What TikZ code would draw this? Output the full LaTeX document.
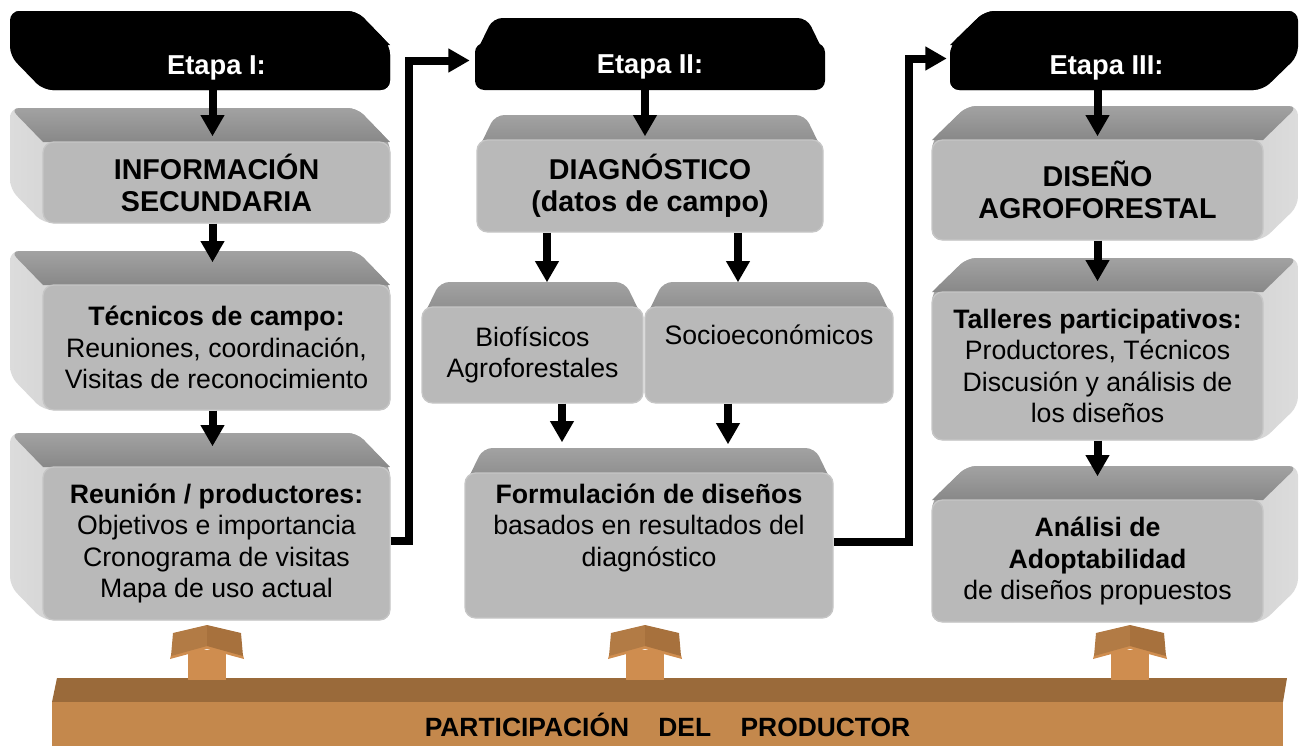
\documentclass[tikz,border=0pt]{standalone}
\usepackage{fontspec}
\setmainfont{Liberation Sans}
\usetikzlibrary{arrows.meta,calc}
\definecolor{frontgray}{HTML}{B9B9B9}
\definecolor{frontedge}{HTML}{C6C6C6}
\definecolor{topback}{HTML}{A2A2A2}
\definecolor{topfront}{HTML}{888888}
\definecolor{sidelight}{HTML}{DCDCDC}
\definecolor{sidedark}{HTML}{A4A4A4}
\definecolor{bartop}{HTML}{9A6A3A}
\definecolor{barfront}{HTML}{C4884C}
\definecolor{brheadL}{HTML}{B27B45}
\definecolor{brheadR}{HTML}{A7713D}
\definecolor{brlight}{HTML}{CF8D4F}
\newcommand\fbody{\fontsize{20}{23.5}\selectfont}
\newcommand\ftitle{\fontsize{21.5}{24}\selectfont\bfseries}
\newcommand\fhead{\fontsize{20.5}{24}\selectfont\bfseries}
\tikzset{
  front/.style={rectangle, rounded corners=8pt, fill=frontgray, draw=frontedge, line width=1pt,
    inner sep=0pt, align=center, font=\fbody},
  titlebox/.style={front, font=\ftitle},
  headbox/.style={rectangle, rounded corners=7pt, fill=black, inner sep=0pt, text=white, font=\fhead},
  barnode/.style={rectangle, fill=barfront, inner sep=0pt, font=\fontsize{19.8}{22}\selectfont\bfseries},
  arr/.style={line width=6pt, -{Triangle[width=17pt,length=16pt]}},
  blk/.style={fill=black},
  sideL/.style={left color=sidelight, right color=sidedark},
  sideR/.style={left color=sidedark, right color=sidelight},
  topf/.style={top color=topback, bottom color=topfront},
}
% extrusion toward upper left (column 1)
\newcommand\extL[6]{%
  \path[#5,rounded corners=7pt] ({#1-33},{#2-34}) -- ({#3-33},{#2-34}) -- (#3,#2) -- (#3,#4) -- (#1,#4) -- ({#1-33},{#4-34}) -- cycle;
  \path[#6] (#3,#2) -- (#1,#2) [rounded corners=7pt] -- ({#1-33},{#2-34}) -- ({#3-33},{#2-34}) [sharp corners] -- cycle;}
% extrusion toward upper right (column 3)
\newcommand\extR[6]{%
  \path[#5,rounded corners=7pt] (#1,#2) -- ({#1+35},{#2-34}) -- ({#3+35},{#2-34}) -- ({#3+35},{#4-34}) -- (#3,#4) -- (#1,#4) -- cycle;
  \path[#6] (#3,#2) -- (#1,#2) [rounded corners=7pt] -- ({#1+35},{#2-34}) -- ({#3+35},{#2-34}) [sharp corners] -- cycle;}
% extrusion straight up (column 2)
\newcommand\extC[5]{%
  \path[#5,rounded corners=7pt] (#1,{#2+12}) -- ({#1+18},{#2-25}) -- ({#3-18},{#2-25}) -- (#3,{#2+12}) -- cycle;}
\newcommand\frontnode[7][front]{%
  \node[#1, minimum width={(#5-#3)*0.75pt}, minimum height={(#6-#4)*0.75pt}] (#2) at ({(#3+#5)/2},{(#4+#6)/2}) {#7};}
\newcommand\brarrow[1]{%
  \fill[brlight] ({#1-19},650) rectangle ({#1+19},680);
  \fill[brlight] ({#1-37},659) -- (#1,649) -- ({#1+37},659) -- ({#1+36},655) -- (#1,645) -- ({#1-36},655) -- cycle;
  \fill[brheadL] ({#1-34},633) -- (#1,625) -- (#1,646) -- ({#1-36},656) -- cycle;
  \fill[brheadR] ({#1+34},633) -- (#1,625) -- (#1,646) -- ({#1+36},656) -- cycle;}
\begin{document}
\begin{tikzpicture}[x=0.75pt,y=-0.75pt]
\useasboundingbox (0,0) rectangle (1307,746);
% ---------- bottom bar and brown arrows
\fill[bartop] (57,678) -- (1287,678) -- (1283,702) -- (52,702) -- cycle;
\frontnode[barnode]{bar}{52}{702}{1283}{748}{PARTICIPACIÓN~~~~DEL~~~~PRODUCTOR}
\brarrow{207}
\brarrow{645}
\brarrow{1130}
% ---------- 3D bodies
\extL{43}{45}{390}{90}{blk}{blk}
\extL{43}{142}{390}{223}{sideL}{topf}
\extL{43}{285}{390}{410}{sideL}{topf}
\extL{43}{467}{390}{620}{sideL}{topf}
\extC{475}{43}{825}{90}{blk}
\extC{477}{140}{823}{232}{topf}
\extC{422}{307}{643}{403}{topf}
\extC{645}{307}{893}{403}{topf}
\extC{465}{473}{833}{618}{topf}
\extR{950}{45}{1263}{90}{blk}{blk}
\extR{932}{140}{1263}{240}{sideR}{topf}
\extR{932}{292}{1263}{440}{sideR}{topf}
\extR{932}{500}{1263}{622}{sideR}{topf}
% ---------- front faces
\frontnode[headbox]{h1}{43}{45}{390}{90}{\raisebox{-3pt}{Etapa I:}}
\frontnode[titlebox]{b1}{43}{142}{390}{223}{INFORMACIÓN\\SECUNDARIA}
\frontnode{b2}{43}{285}{390}{410}{{\bfseries Técnicos de campo:}\\Reuniones, coordinación,\\Visitas de reconocimiento}
\frontnode{b3}{43}{467}{390}{620}{{\bfseries Reunión / productores:}\\Objetivos e importancia\\Cronograma de visitas\\Mapa de uso actual}
\frontnode[headbox]{h2}{475}{43}{825}{90}{\raisebox{-3pt}{Etapa II:}}
\frontnode[titlebox]{diag}{477}{140}{823}{232}{DIAGNÓSTICO\\(datos de campo)}
\frontnode{biof}{422}{307}{643}{403}{Biofísicos\\Agroforestales}
\frontnode{socio}{645}{307}{893}{403}{Socioeconómicos\\\strut}
\frontnode{form}{465}{473}{833}{618}{{\bfseries Formulación de diseños}\\basados en resultados del\\diagnóstico\\\strut}
\frontnode[headbox]{h3}{950}{45}{1263}{90}{\raisebox{-3pt}{Etapa III:}}
\frontnode[titlebox]{dis}{932}{140}{1263}{240}{DISEÑO\\AGROFORESTAL}
\frontnode{tal}{932}{292}{1263}{440}{{\bfseries Talleres participativos:}\\Productores, Técnicos\\Discusión y análisis de\\los diseños}
\frontnode{ana}{932}{500}{1263}{622}{{\bfseries Análisi de}\\{\bfseries Adoptabilidad}\\de diseños propuestos}
% ---------- connectors
\draw[arr] ($(h1.south)+(-4,0)$) -- ($(b1.north)+(-4,-5)$);
\draw[arr] ($(b1.south)+(-4,0)$) -- ($(b2.north)+(-4,-22)$);
\draw[arr] ($(b2.south)+(-4,0)$) -- ($(b3.north)+(-4,-20)$);
\draw[arr] ($(h2.south)+(-5,0)$) -- ($(diag.north)+(-5,-3)$);
\draw[arr] ($(diag.south)+(-103,0)$) -- ($(biof.north)+(14.5,-24)$);
\draw[arr] ($(diag.south)+(88,0)$) -- ($(socio.north)+(-31,-24)$);
\draw[arr] ($(biof.south)+(29.5,0)$) -- ($(form.north)+(-87,-30)$);
\draw[arr] ($(socio.south)+(-41,0)$) -- ($(form.north)+(79,-28)$);
\draw[arr] (h3.south -| dis.north) -- ($(dis.north)+(0,-3)$);
\draw[arr] (dis.south) -- ($(tal.north)+(0,-10)$);
\draw[arr] (tal.south) -- ($(ana.north)+(0,-23)$);
\draw[arr] ($(b3.east)+(0,-3)$) -- ++(18,0) |- ($(h2.west)+(-5,-6)$);
\draw[arr] ($(form.east)+(0,-4)$) -- ++(75,0) |- ($(h3.west)+(-3,-9)$);
\end{tikzpicture}
\end{document}
